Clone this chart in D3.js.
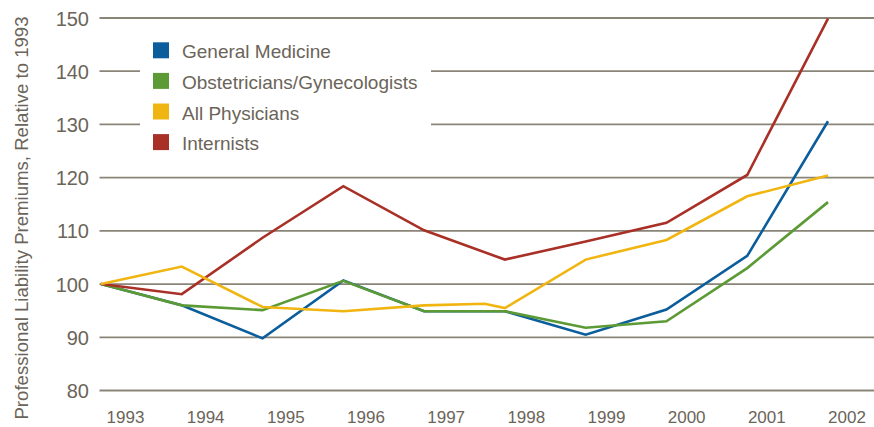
<!DOCTYPE html>
<html>
<head>
<meta charset="utf-8">
<script src="https://cdn.jsdelivr.net/npm/d3@7"></script>
<style>
  html, body { margin: 0; padding: 0; background: #fff; }
  svg { display: block; font-family: "Liberation Sans", Arial, sans-serif; }
</style>
</head>
<body>
<svg id="chart" width="874" height="427"></svg>
<script>
// ---- data ----
const years = [1993, 1994, 1995, 1996, 1997, 1998, 1999, 2000, 2001, 2002];
const yTicks = [80, 90, 100, 110, 120, 130, 140, 150];
const generalMedicine = [100, 96.0, 89.8, 100.7, 94.9, 94.9, 90.5, 95.2, 105.3, 130.6];
const obGyn = [100, 96.0, 95.1, 100.6, 94.9, 94.9, 91.8, 93.0, 103.0, 115.4];
const allPhysiciansYears = [1993, 1994, 1995, 1996, 1997, 1997.75, 1998, 1999, 2000, 2001, 2002];
const allPhysicians = [100, 103.3, 95.7, 94.9, 96.0, 96.3, 95.5, 104.6, 108.3, 116.5, 120.4];
const internists = [100, 98.1, 108.7, 118.4, 110.1, 104.6, 108.0, 111.5, 120.5, 149.9];
const seriesNames = ["General Medicine", "Obstetricians/Gynecologists", "All Physicians", "Internists"];
const seriesColors = ["#0b5d9b", "#5c9a36", "#f1b512", "#a93027"];
const yTitle = "Professional Liability Premiums, Relative to 1993";

// ---- setup ----
const svg = d3.select("#chart");
const textColor = "#6b6459";
const gridColor = "#8b8578";

const x = d3.scaleLinear().domain([1993, 2002]).range([101, 828]);
const xLabel = d3.scaleLinear().domain([1993, 2002]).range([125.5, 847]);
const y = d3.scaleLinear().domain([80, 150]).range([390.5, 18]);

// gridlines
svg.append("g").selectAll("line").data(yTicks).join("line")
  .attr("x1", 99.5).attr("x2", 874)
  .attr("y1", d => y(d)).attr("y2", d => y(d))
  .attr("stroke", gridColor).attr("stroke-width", 1.8);

// y tick labels
svg.append("g").selectAll("text").data(yTicks).join("text")
  .attr("x", 89).attr("y", d => y(d) + 7.5)
  .attr("text-anchor", "end")
  .attr("font-size", 20).attr("fill", textColor)
  .text(d => d);

// x tick labels
svg.append("g").selectAll("text").data(years).join("text")
  .attr("x", d => xLabel(d)).attr("y", 422.5)
  .attr("text-anchor", "middle")
  .attr("font-size", 17).attr("fill", textColor)
  .text(d => d);

// y title
svg.append("text")
  .attr("transform", "translate(27.5,218) rotate(-90)")
  .attr("text-anchor", "middle")
  .attr("font-size", 18.6).attr("fill", textColor)
  .text(yTitle);

// legend background (hides gridlines)
svg.append("rect").attr("x", 140).attr("y", 30).attr("width", 291).attr("height", 133).attr("fill", "#fff");

// lines
const line = d3.line().x(d => x(d[0])).y(d => y(d[1]));
const seriesData = [
  years.map((yr, i) => [yr, generalMedicine[i]]),
  years.map((yr, i) => [yr, obGyn[i]]),
  allPhysiciansYears.map((yr, i) => [yr, allPhysicians[i]]),
  years.map((yr, i) => [yr, internists[i]])
];
const drawOrder = [0, 1, 3, 2];
svg.append("g").selectAll("path").data(drawOrder).join("path")
  .attr("d", k => line(seriesData[k]))
  .attr("fill", "none")
  .attr("stroke", k => seriesColors[k])
  .attr("stroke-width", 2.6)
  .attr("stroke-linejoin", "miter");

// legend
const leg = svg.append("g").selectAll("g").data(seriesNames).join("g")
  .attr("transform", (d, i) => `translate(0,${58.3 + i * 30.6})`);
leg.append("rect").attr("x", 153).attr("y", -16).attr("width", 16).attr("height", 16)
  .attr("fill", (d, i) => seriesColors[i]);
leg.append("text").attr("x", 182).attr("y", 0)
  .attr("font-size", 19).attr("fill", textColor)
  .text(d => d);
</script>
</body>
</html>
